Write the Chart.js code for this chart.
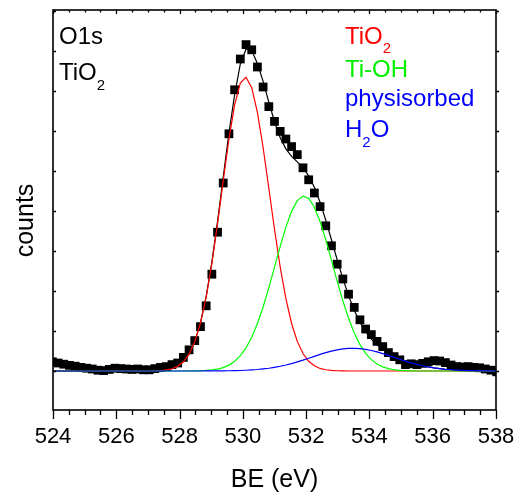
<!DOCTYPE html>
<html>
<head>
<meta charset="utf-8">
<script src="https://cdn.jsdelivr.net/npm/chart.js@4/dist/chart.umd.min.js"></script>
<style>
  html, body { margin: 0; padding: 0; background: #fff; }
  canvas { display: block; }
</style>
</head>
<body>
<canvas id="xps" width="516" height="494"></canvas>
<script>
// binding energy grid (eV)
const beX = [
  523.98, 524.16, 524.34, 524.52, 524.70, 524.88, 525.06, 525.24, 525.42, 525.60,
  525.78, 525.96, 526.14, 526.32, 526.50, 526.68, 526.86, 527.04, 527.22, 527.40,
  527.58, 527.76, 527.94, 528.12, 528.30, 528.48, 528.66, 528.84, 529.02, 529.20,
  529.38, 529.56, 529.74, 529.92, 530.10, 530.28, 530.46, 530.64, 530.82, 531.00,
  531.18, 531.36, 531.54, 531.72, 531.90, 532.08, 532.26, 532.44, 532.62, 532.80,
  532.98, 533.16, 533.34, 533.52, 533.70, 533.88, 534.06, 534.24, 534.42, 534.60,
  534.78, 534.96, 535.14, 535.32, 535.50, 535.68, 535.86, 536.04, 536.22, 536.40,
  536.58, 536.76, 536.94, 537.12, 537.30, 537.48, 537.66, 537.84, 538.02
];

// measured counts (arb. units, background = 0)
const counts = [
  2.3, 2.0, 1.7, 1.4, 1.2, 0.9, 0.7, 0.5, 0.2, 0.1,
  0.4, 0.7, 0.6, 0.5, 0.4, 0.5, 0.3, 0.3, 0.6, 0.9,
  1.1, 1.6, 2.0, 3.4, 5.3, 7.6, 11.1, 16.3, 24.2, 34.7,
  47.0, 59.3, 70.3, 78.0, 81.6, 80.3, 76.0, 71.0, 66.1, 62.4,
  59.9, 58.0, 56.1, 54.1, 50.8, 47.8, 44.5, 41.1, 36.3, 31.3,
  26.7, 23.0, 19.2, 15.9, 12.8, 10.5, 9.1, 7.4, 6.1, 4.6,
  3.6, 2.8, 1.6, 1.8, 1.6, 1.9, 2.3, 2.6, 2.5, 2.1,
  1.5, 1.1, 1.0, 1.1, 0.9, 0.8, 0.5, 0.2, -0.2
];

// fitted components
const tio2Fit = [
  0, 0, 0, 0, 0, 0, 0, 0, 0, 0,
  0, 0, 0, 0, 0, 0, 0, 0, 0, 0.11,
  0.26, 0.56, 1.17, 2.29, 4.21, 7.31, 11.98, 18.47, 26.86, 36.83,
  47.59, 57.96, 66.55, 72.00, 73.44, 70.82, 64.65, 55.88, 45.74, 35.44,
  26.00, 18.07, 11.88, 7.40, 4.36, 2.44, 1.29, 0.64, 0.31, 0.14,
  0.06, 0.02, 0, 0, 0, 0, 0, 0, 0, 0,
  0, 0, 0, 0, 0, 0, 0, 0, 0, 0,
  0, 0, 0, 0, 0, 0, 0, 0, 0
];

const tiohFit = [
  0, 0, 0, 0, 0, 0, 0, 0, 0, 0,
  0, 0, 0, 0, 0, 0, 0, 0, 0, 0,
  0, 0, 0, 0, 0.02, 0.03, 0.07, 0.14, 0.26, 0.49,
  0.86, 1.47, 2.42, 3.82, 5.79, 8.45, 11.86, 16.01, 20.79, 25.95,
  31.15, 35.96, 39.91, 42.60, 43.73, 43.16, 40.96, 37.39, 32.82, 27.70,
  22.48, 17.55, 13.17, 9.51, 6.60, 4.40, 2.83, 1.75, 1.04, 0.59,
  0.32, 0.17, 0.08, 0.04, 0, 0, 0, 0, 0, 0,
  0, 0, 0, 0, 0, 0, 0, 0, 0
];

const h2oFit = [
  0, 0, 0, 0, 0, 0, 0, 0, 0, 0,
  0, 0, 0, 0, 0, 0, 0, 0, 0, 0,
  0, 0, 0, 0, 0, 0, 0, 0.01, 0.02, 0.03,
  0.04, 0.06, 0.09, 0.13, 0.19, 0.27, 0.37, 0.52, 0.69, 0.92,
  1.18, 1.50, 1.86, 2.28, 2.72, 3.20, 3.67, 4.15, 4.59, 4.97,
  5.30, 5.53, 5.67, 5.68, 5.61, 5.42, 5.13, 4.77, 4.35, 3.89,
  3.40, 2.93, 2.47, 2.04, 1.65, 1.31, 1.02, 0.78, 0.59, 0.43,
  0.31, 0.22, 0.15, 0.11, 0.07, 0.05, 0.03, 0.02, 0.01
];

const envelopeFit = [
  0, 0, 0, 0, 0, 0, 0, 0, 0, 0,
  0, 0, 0, 0, 0, 0, 0, 0, 0, 0.11,
  0.26, 0.56, 1.17, 2.29, 4.23, 7.34, 12.05, 18.62, 27.14, 37.35,
  48.49, 59.49, 69.06, 76.75, 80.45, 80.15, 76.88, 72.41, 67.22, 62.31,
  58.33, 55.53, 53.65, 52.28, 50.81, 48.80, 45.92, 42.18, 37.72, 32.81,
  27.84, 23.10, 18.84, 15.19, 12.21, 9.82, 7.96, 6.52, 5.39, 4.48,
  3.72, 3.10, 2.55, 2.08, 1.65, 1.31, 1.02, 0.78, 0.59, 0.43,
  0.31, 0.22, 0.15, 0.11, 0.07, 0.05, 0.03, 0.02, 0.01
];

const xTickLabels = [524, 526, 528, 530, 532, 534, 536, 538];
const yTickValues = [0, 10, 20, 30, 40, 50, 60, 70, 80, 90];

const FONT = '"Liberation Sans", Arial, Helvetica, sans-serif';

function pts(ys) {
  return beX.map((x, i) => ({ x: x, y: ys[i] }));
}

function fitLine(data, color, order) {
  return {
    data: pts(data),
    showLine: true,
    borderColor: color,
    borderWidth: 1.2,
    pointRadius: 0,
    tension: 0,
    fill: false,
    order: order
  };
}

// draws text pieces in a row, some of them as subscripts
function drawRich(ctx, x, y, parts, color) {
  ctx.fillStyle = color;
  ctx.textAlign = 'left';
  ctx.textBaseline = 'alphabetic';
  parts.forEach(p => {
    const size = p.sub ? 15 : 24;
    ctx.font = size + 'px ' + FONT;
    ctx.fillText(p.t, x, y + (p.sub ? 9.5 : 0));
    x += ctx.measureText(p.t).width;
  });
}

const framePlugin = {
  id: 'frame',
  afterDatasetsDraw(chart) {
    const { ctx, chartArea: a, scales } = chart;
    const xs = scales.x, ys = scales.y;
    ctx.save();

    // frame
    ctx.strokeStyle = '#000';
    ctx.lineWidth = 1.6;
    ctx.strokeRect(a.left, a.top, a.right - a.left, a.bottom - a.top);

    // x ticks: majors at labels, minors every 0.5 eV
    ctx.lineWidth = 1.3;
    ctx.beginPath();
    for (let v = xs.min; v <= xs.max + 1e-6; v += 0.5) {
      const px = Math.round(xs.getPixelForValue(v)) + 0.5;
      const major = xTickLabels.includes(v);
      ctx.moveTo(px, a.bottom);
      ctx.lineTo(px, a.bottom + (major ? 9 : 5));
      ctx.moveTo(px, a.top);
      ctx.lineTo(px, a.top + (major ? 4 : 2.5));
    }
    // y ticks
    yTickValues.forEach(v => {
      const py = Math.round(ys.getPixelForValue(v)) + 0.5;
      ctx.moveTo(a.left, py);
      ctx.lineTo(a.left + 3, py);
      ctx.moveTo(a.right, py);
      ctx.lineTo(a.right + 3, py);
    });
    ctx.stroke();

    // annotations
    drawRich(ctx, 59, 44, [{ t: 'O1s' }], '#000');
    drawRich(ctx, 59, 80, [{ t: 'TiO' }, { t: '2', sub: true }], '#000');
    drawRich(ctx, 345, 43.5, [{ t: 'TiO' }, { t: '2', sub: true }], '#ff0000');
    drawRich(ctx, 345, 77, [{ t: 'Ti-OH' }], '#00f000');
    drawRich(ctx, 345, 106, [{ t: 'physisorbed' }], '#0000ff');
    drawRich(ctx, 345, 137, [{ t: 'H' }, { t: '2', sub: true }, { t: 'O' }], '#0000ff');

    // axis titles
    ctx.fillStyle = '#000';
    ctx.font = '25px ' + FONT;
    ctx.textAlign = 'center';
    ctx.textBaseline = 'alphabetic';
    ctx.fillText('BE (eV)', (a.left + a.right) / 2, 487);
    ctx.translate(33, 220.5);
    ctx.rotate(-Math.PI / 2);
    ctx.fillText('counts', 0, 0);

    ctx.restore();
  }
};

new Chart(document.getElementById('xps'), {
  type: 'scatter',
  data: {
    datasets: [
      fitLine(h2oFit, '#0000ff', 0),
      fitLine(tiohFit, '#00ff00', 1),
      fitLine(tio2Fit, '#ff0000', 2),
      fitLine(envelopeFit, '#000000', 3),
      {
        data: pts(counts),
        pointStyle: 'rect',
        pointRadius: 6.2,
        backgroundColor: '#000',
        borderWidth: 0,
        showLine: false,
        order: 4
      }
    ]
  },
  options: {
    responsive: false,
    animation: false,
    devicePixelRatio: 1,
    layout: { padding: { top: 10, right: 20, left: 0, bottom: 0 } },
    plugins: {
      legend: { display: false },
      tooltip: { enabled: false }
    },
    scales: {
      x: {
        type: 'linear',
        min: 524,
        max: 538,
        afterBuildTicks: s => { s.ticks = xTickLabels.map(v => ({ value: v })); },
        afterFit: s => { s.height = 84; s.paddingLeft = 0; s.paddingRight = 0; },
        grid: { display: false, drawTicks: false, tickLength: 0 },
        border: { display: false },
        ticks: {
          padding: 14,
          color: '#000',
          font: { family: FONT, size: 22 },
          maxRotation: 0,
          autoSkip: false
        }
      },
      y: {
        type: 'linear',
        min: -9.75,
        max: 90.25,
        afterFit: s => { s.width = 53; },
        grid: { display: false, drawTicks: false },
        border: { display: false },
        ticks: { display: false }
      }
    }
  },
  plugins: [framePlugin]
});
</script>
</body>
</html>
